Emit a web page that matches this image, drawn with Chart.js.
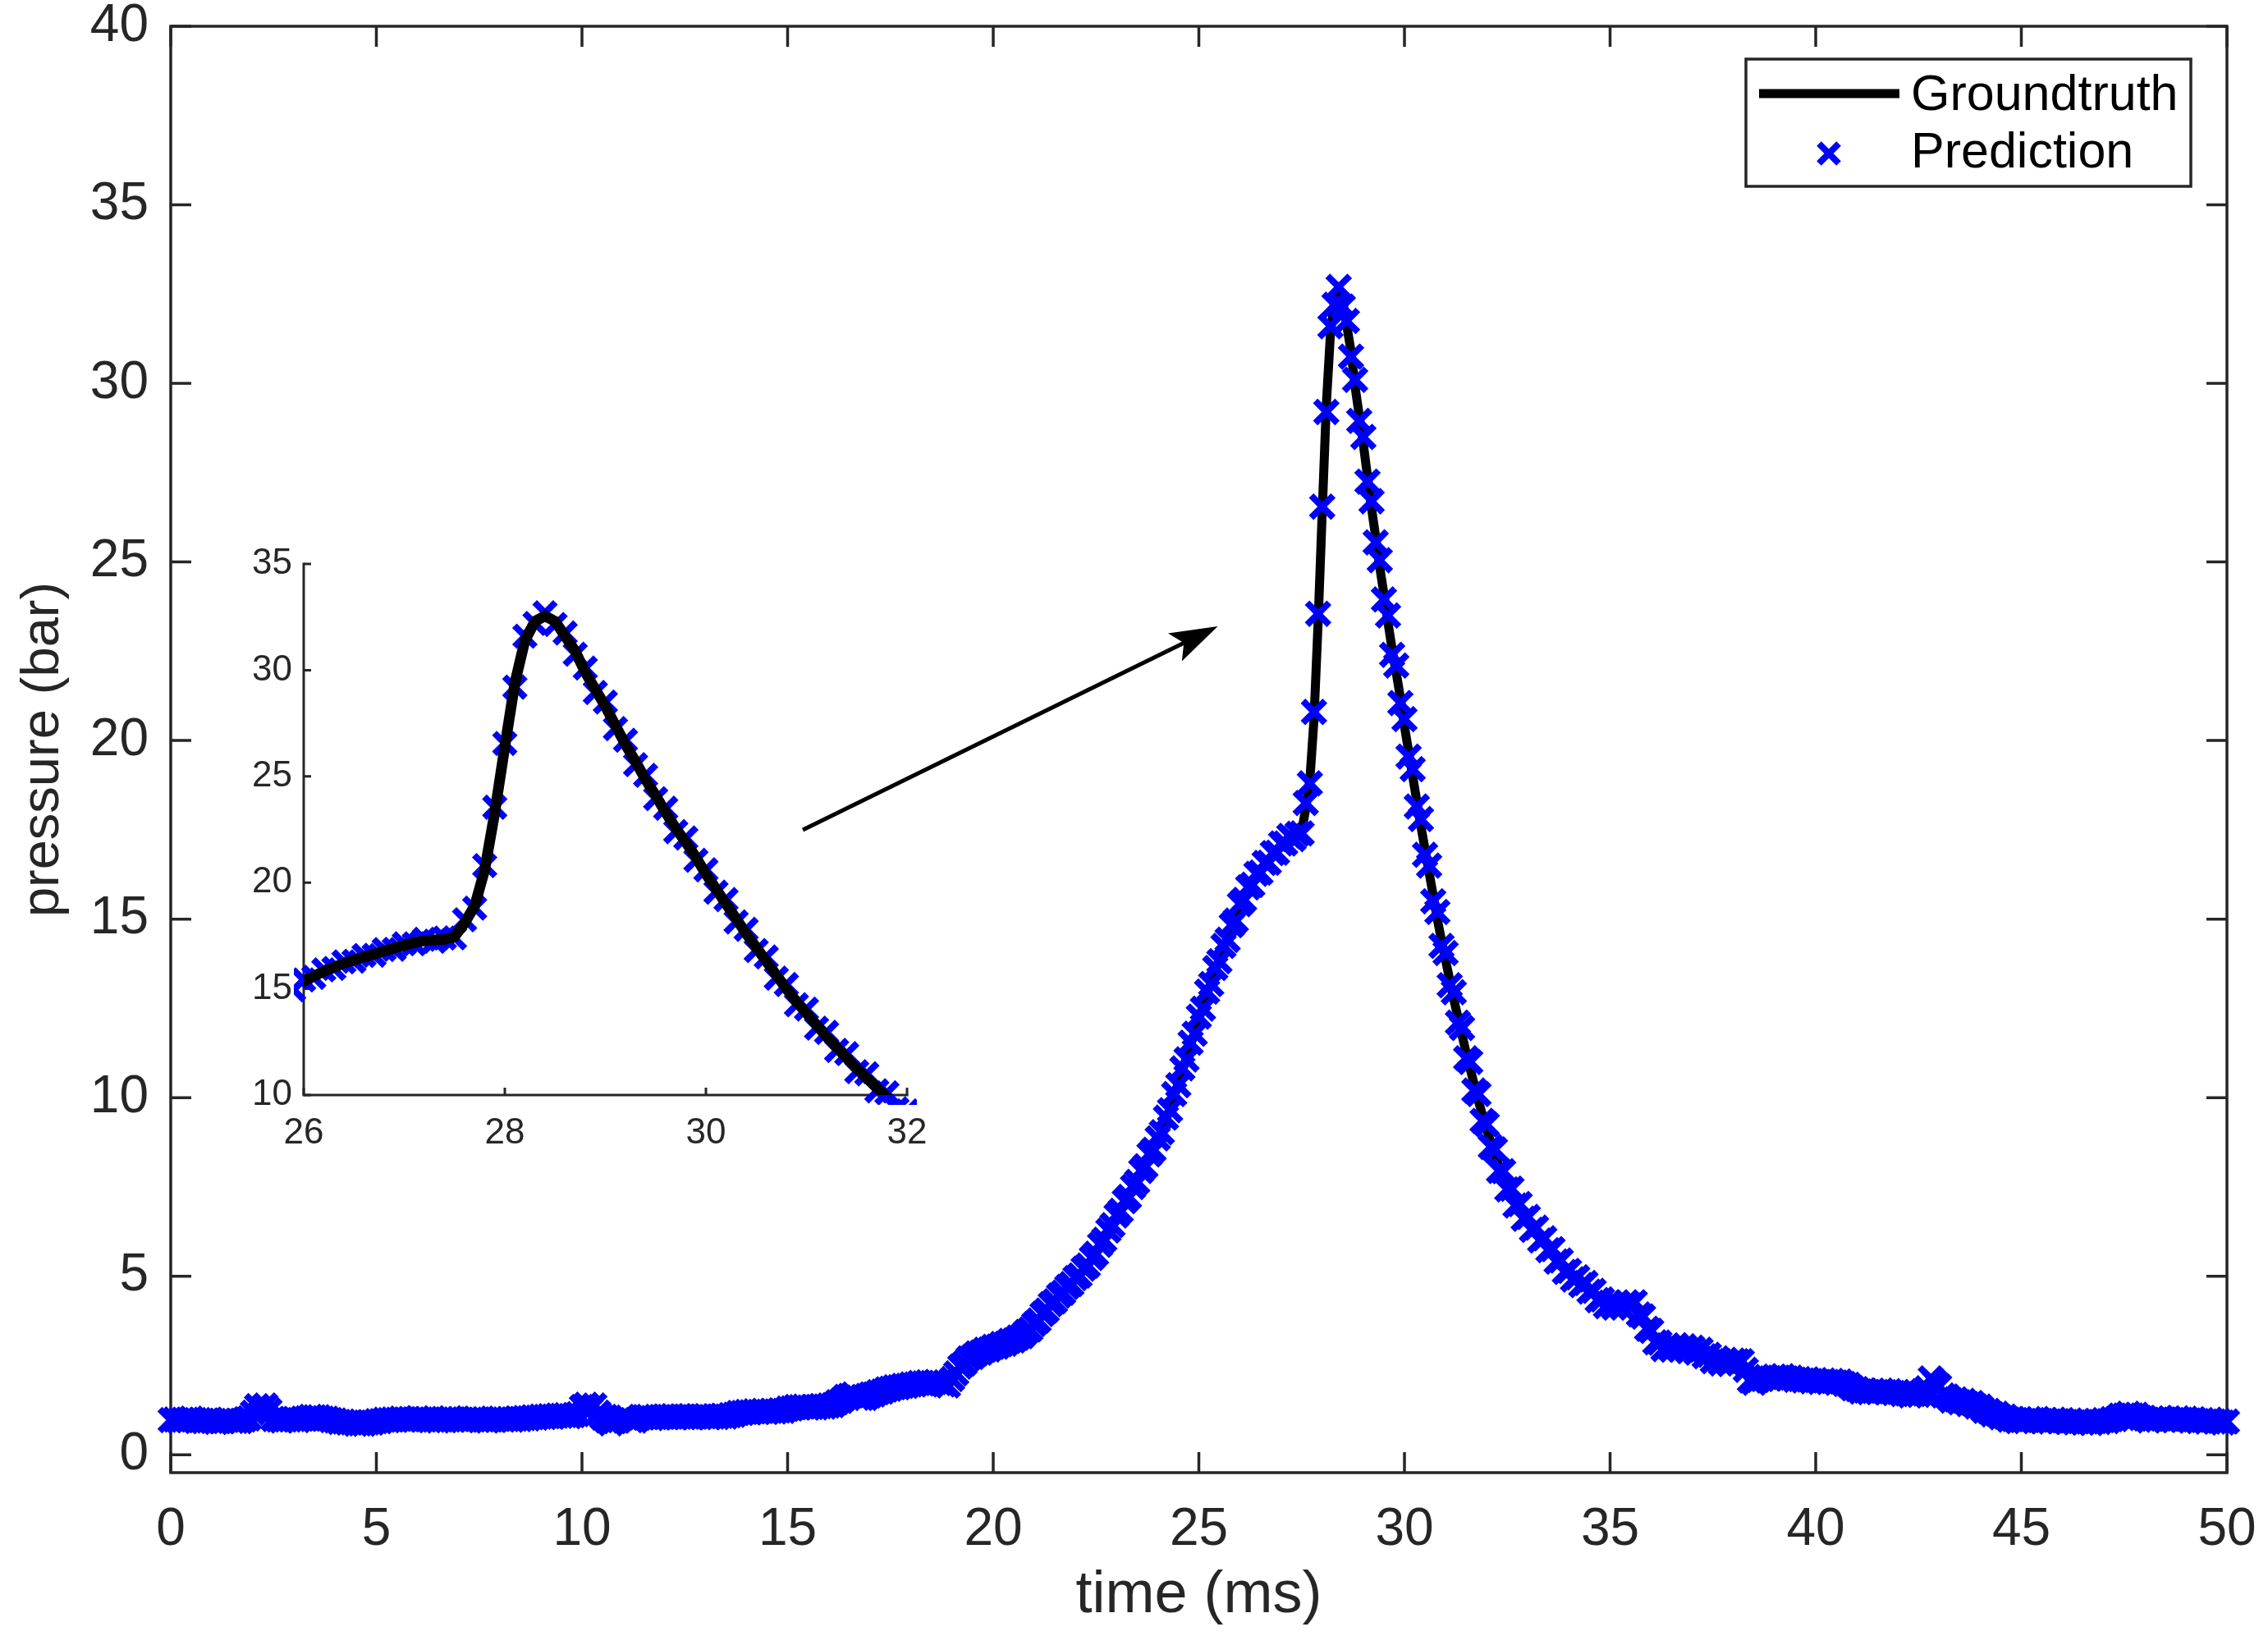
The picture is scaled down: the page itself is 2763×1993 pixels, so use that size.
<!DOCTYPE html>
<html>
<head>
<meta charset="utf-8">
<script src="https://cdn.jsdelivr.net/npm/chart.js@4.4.1/dist/chart.umd.min.js"></script>
<style>
  html, body { margin: 0; padding: 0; background: #fff; }
  #wrap { position: relative; width: 2763px; height: 1993px; }
  #mainChart { position: absolute; left: 0; top: 0; }
  #insetChart { position: absolute; left: 260px; top: 660px; }
</style>
</head>
<body>
<div id="wrap">
  <canvas id="mainChart" width="2763" height="1993"></canvas>
  <canvas id="insetChart" width="900" height="760"></canvas>
</div>
<script>
// samples every 0.1 ms from 0 to 50 ms
const sampleStartMs = 0;
const sampleStepMs = 0.1;

// pressure (bar), one row per ms
const groundtruth = [
  0.98,0.97,0.96,0.97,0.99,1.00,0.98,0.96,0.95,0.95,
  0.94,0.93,0.94,0.96,0.97,0.96,0.94,0.95,0.98,1.00,
  1.12,1.30,1.20,1.32,1.26,1.02,0.98,0.97,0.98,1.00,
  0.99,0.98,1.00,1.03,1.05,1.06,1.04,1.02,1.00,0.98,
  0.95,0.93,0.92,0.91,0.90,0.88,0.87,0.88,0.90,0.91,
  0.93,0.95,0.97,0.98,0.98,0.99,1.00,1.00,0.99,1.00,
  1.01,1.00,0.99,0.98,0.97,0.97,0.98,1.00,1.01,1.00,
  0.99,0.98,0.98,0.99,1.00,0.99,0.98,0.97,0.98,0.99,
  1.00,1.00,0.99,0.99,1.00,1.01,1.02,1.03,1.04,1.05,
  1.06,1.07,1.07,1.08,1.09,1.10,1.10,1.09,1.10,1.12,
  1.28,1.36,1.30,1.34,1.22,1.08,0.98,0.90,0.92,0.98,
  1.04,1.05,0.98,0.95,1.02,1.06,1.05,1.04,1.05,1.06,
  1.06,1.07,1.07,1.06,1.06,1.07,1.06,1.06,1.07,1.08,
  1.07,1.06,1.06,1.07,1.08,1.08,1.10,1.13,1.16,1.18,
  1.19,1.20,1.21,1.21,1.22,1.21,1.22,1.22,1.23,1.24,
  1.28,1.31,1.33,1.34,1.34,1.33,1.33,1.34,1.35,1.36,
  1.37,1.40,1.45,1.52,1.60,1.66,1.67,1.62,1.58,1.60,
  1.65,1.70,1.74,1.78,1.82,1.86,1.88,1.90,1.92,1.94,
  1.96,1.98,2.00,2.01,2.02,2.02,2.03,2.02,1.98,1.95,
  2.10,2.30,2.45,2.58,2.68,2.76,2.82,2.87,2.92,2.96,
  3.00,3.04,3.08,3.12,3.17,3.21,3.26,3.33,3.42,3.52,
  3.64,3.78,3.92,4.06,4.20,4.32,4.44,4.56,4.68,4.80,
  4.92,5.04,5.18,5.32,5.48,5.66,5.85,6.05,6.25,6.46,
  6.66,6.86,7.06,7.26,7.46,7.68,7.90,8.12,8.36,8.58,
  8.80,9.08,9.38,9.70,10.04,10.40,10.76,11.12,11.48,11.84,
  12.20,12.55,12.90,13.24,13.56,13.88,14.18,14.48,14.76,15.02,
  15.35,15.60,15.82,16.02,16.20,16.36,16.50,16.64,16.78,16.92,
  17.05,17.18,17.26,17.30,17.32,17.45,18.10,18.90,20.60,23.30,
  26.40,29.40,31.40,32.30,32.55,32.30,31.60,30.90,29.90,29.10,
  28.30,27.40,26.50,25.70,24.85,24.10,23.30,22.55,21.90,21.20,
  20.40,19.70,19.00,18.30,17.60,16.95,16.30,15.65,15.00,14.40,
  13.85,13.30,12.75,12.25,11.75,11.25,10.80,10.35,9.90,9.50,
  9.10,8.75,8.40,8.08,7.80,7.55,7.32,7.10,6.90,6.72,
  6.55,6.40,6.25,6.10,5.96,5.82,5.66,5.50,5.35,5.20,
  5.08,4.98,4.90,4.82,4.74,4.64,4.52,4.40,4.28,4.22,
  4.20,4.18,4.17,4.18,4.20,4.24,4.20,4.00,3.80,3.60,
  3.40,3.22,3.08,3.02,3.00,3.00,3.01,3.00,2.98,2.96,
  2.94,2.92,2.88,2.82,2.74,2.68,2.64,2.62,2.60,2.60,
  2.62,2.64,2.60,2.40,2.06,2.04,2.08,2.14,2.16,2.16,
  2.17,2.18,2.18,2.16,2.14,2.12,2.10,2.10,2.09,2.08,
  2.07,2.06,2.06,2.06,2.05,2.04,2.03,2.00,1.94,1.88,
  1.82,1.79,1.78,1.77,1.77,1.78,1.78,1.77,1.76,1.75,
  1.74,1.72,1.70,1.68,1.68,1.70,1.75,1.90,2.10,2.05,
  1.88,1.70,1.60,1.55,1.52,1.50,1.48,1.45,1.42,1.38,
  1.32,1.26,1.20,1.16,1.12,1.08,1.04,1.01,0.98,0.96,
  0.95,0.96,0.98,0.99,0.98,0.96,0.95,0.95,0.96,0.96,
  0.95,0.94,0.94,0.93,0.92,0.92,0.91,0.91,0.92,0.94,
  0.95,0.96,0.98,1.02,1.08,1.12,1.13,1.12,1.10,1.05,
  1.00,0.98,0.99,1.00,1.01,1.00,0.99,0.99,1.00,1.00,
  0.99,0.98,0.97,0.96,0.95,0.95,0.96,0.95,0.93,0.92,
  0.92
];

const prediction = [
  0.97,0.99,0.95,0.98,0.98,1.01,0.97,0.97,0.94,0.96,
  0.95,0.92,0.95,0.95,0.98,0.95,0.95,0.94,0.99,1.02,
  1.18,1.36,1.18,1.38,1.24,1.00,0.99,0.96,0.99,0.99,
  1.00,0.97,1.01,1.02,1.06,1.05,1.05,1.01,1.01,0.97,
  0.96,0.92,0.93,0.90,0.91,0.87,0.88,0.87,0.91,0.90,
  0.94,0.94,0.98,0.97,0.99,0.98,1.01,0.99,1.00,0.99,
  1.02,0.99,1.00,0.97,0.98,0.96,0.99,0.99,1.02,0.99,
  1.00,0.97,0.99,0.98,1.01,0.98,0.99,0.96,0.99,0.98,
  1.01,0.99,1.00,0.98,1.01,1.00,1.03,1.02,1.05,1.04,
  1.07,1.06,1.08,1.07,1.10,1.09,1.11,1.08,1.11,1.14,
  1.34,1.40,1.26,1.38,1.18,1.04,0.96,0.88,0.94,0.97,
  1.06,1.04,0.97,0.96,1.04,1.05,1.06,1.03,1.06,1.05,
  1.07,1.06,1.08,1.05,1.07,1.06,1.07,1.05,1.08,1.07,
  1.08,1.05,1.07,1.06,1.09,1.07,1.11,1.12,1.17,1.17,
  1.20,1.19,1.22,1.20,1.23,1.20,1.23,1.21,1.24,1.23,
  1.29,1.30,1.34,1.33,1.35,1.32,1.34,1.33,1.36,1.35,
  1.38,1.39,1.47,1.51,1.62,1.65,1.69,1.60,1.59,1.59,
  1.66,1.69,1.75,1.77,1.83,1.85,1.89,1.89,1.93,1.93,
  1.97,1.97,2.01,2.00,2.03,2.01,2.04,2.01,1.97,1.94,
  2.12,2.28,2.47,2.56,2.70,2.74,2.84,2.86,2.94,2.95,
  3.02,3.03,3.10,3.11,3.19,3.20,3.28,3.32,3.44,3.51,
  3.66,3.76,3.94,4.04,4.22,4.30,4.46,4.54,4.70,4.78,
  4.95,5.02,5.21,5.30,5.51,5.63,5.88,6.02,6.28,6.43,
  6.70,6.83,7.10,7.22,7.50,7.64,7.95,8.08,8.41,8.54,
  8.86,9.03,9.44,9.65,10.10,10.35,10.82,11.07,11.54,11.79,
  12.27,12.49,12.97,13.18,13.63,13.82,14.25,14.42,14.83,14.96,
  15.42,15.54,15.89,15.96,16.27,16.30,16.57,16.58,16.85,16.86,
  17.12,17.12,17.33,17.24,17.39,17.40,18.25,18.80,20.80,23.55,
  26.55,29.20,31.60,32.20,32.70,32.15,31.75,30.75,30.10,28.95,
  28.50,27.25,26.70,25.55,25.05,23.95,23.50,22.40,22.10,21.05,
  20.60,19.55,19.20,18.15,17.80,16.80,16.50,15.50,15.20,14.25,
  14.05,13.15,12.95,12.10,11.95,11.10,11.00,10.20,10.10,9.35,
  9.25,8.62,8.55,7.95,7.94,7.43,7.45,6.98,7.02,6.61,
  6.66,6.30,6.36,6.00,6.06,5.73,5.76,5.41,5.44,5.12,
  5.15,4.91,4.97,4.75,4.81,4.57,4.59,4.33,4.35,4.16,
  4.26,4.12,4.23,4.12,4.27,4.18,4.27,3.93,3.87,3.53,
  3.47,3.15,3.14,2.96,3.06,2.94,3.07,2.94,3.04,2.90,
  3.00,2.86,2.94,2.76,2.80,2.62,2.70,2.56,2.66,2.54,
  2.64,2.62,2.62,2.38,2.08,2.02,2.10,2.12,2.18,2.14,
  2.19,2.16,2.20,2.14,2.16,2.10,2.12,2.08,2.11,2.06,
  2.09,2.04,2.08,2.04,2.07,2.02,2.05,1.98,1.96,1.86,
  1.84,1.77,1.80,1.75,1.79,1.76,1.80,1.75,1.78,1.73,
  1.76,1.70,1.72,1.66,1.70,1.68,1.78,1.86,2.14,2.02,
  1.92,1.66,1.63,1.52,1.55,1.47,1.51,1.42,1.45,1.35,
  1.35,1.23,1.23,1.13,1.15,1.05,1.07,0.98,1.00,0.94,
  0.97,0.94,1.00,0.97,1.00,0.94,0.97,0.93,0.98,0.94,
  0.97,0.92,0.96,0.91,0.94,0.90,0.93,0.89,0.94,0.92,
  0.97,0.94,1.00,1.00,1.10,1.10,1.15,1.10,1.12,1.03,
  1.02,0.96,1.01,0.98,1.03,0.98,1.01,0.97,1.02,0.98,
  1.01,0.96,0.99,0.94,0.97,0.93,0.98,0.93,0.95,0.90,
  0.93
];

const mainXTicks = [0, 5, 10, 15, 20, 25, 30, 35, 40, 45, 50];
const mainYTicks = [0, 5, 10, 15, 20, 25, 30, 35, 40];
const insetXTicks = [26, 28, 30, 32];
const insetYTicks = [10, 15, 20, 25, 30, 35];

// arrow from the inset towards the peak, in data units of the main axes
const arrowFrom = [15.37, 17.5];
const arrowTo = [25.46, 23.2];

const seriesLabels = ['Groundtruth', 'Prediction'];

const FONT = "'Liberation Sans', Arial, Helvetica, sans-serif";
const AXIS_COLOR = '#262626';

function toPoints(values) {
  return values.map((v, i) => ({ x: +(sampleStartMs + i * sampleStepMs).toFixed(1), y: v }));
}
const gtPoints = toPoints(groundtruth);
const predPoints = toPoints(prediction);

// inward ticks + axis lines, matlab style
function framePlugin(xTicks, yTicks, tickLen, lineW, fullBox) {
  return {
    id: 'frame',
    beforeDatasetsDraw(chart) {
      const { ctx, chartArea: a, scales } = chart;
      ctx.save();
      ctx.strokeStyle = AXIS_COLOR;
      ctx.lineWidth = lineW;
      ctx.lineCap = 'square';
      ctx.beginPath();
      if (fullBox) {
        ctx.rect(a.left, a.top, a.right - a.left, a.bottom - a.top);
      } else {
        ctx.moveTo(a.left, a.top);
        ctx.lineTo(a.left, a.bottom);
        ctx.lineTo(a.right, a.bottom);
      }
      ctx.stroke();
      ctx.lineCap = 'butt';
      ctx.beginPath();
      xTicks.forEach(t => {
        const px = scales.x.getPixelForValue(t);
        ctx.moveTo(px, a.bottom); ctx.lineTo(px, a.bottom - tickLen);
        if (fullBox) { ctx.moveTo(px, a.top); ctx.lineTo(px, a.top + tickLen); }
      });
      yTicks.forEach(t => {
        const py = scales.y.getPixelForValue(t);
        ctx.moveTo(a.left, py); ctx.lineTo(a.left + tickLen, py);
        if (fullBox) { ctx.moveTo(a.right, py); ctx.lineTo(a.right - tickLen, py); }
      });
      ctx.stroke();
      ctx.restore();
    }
  };
}

const arrowPlugin = {
  id: 'arrow',
  afterDatasetsDraw(chart) {
    const { ctx, scales } = chart;
    const x0 = scales.x.getPixelForValue(arrowFrom[0]);
    const y0 = scales.y.getPixelForValue(arrowFrom[1]);
    const x1 = scales.x.getPixelForValue(arrowTo[0]);
    const y1 = scales.y.getPixelForValue(arrowTo[1]);
    const len = Math.hypot(x1 - x0, y1 - y0);
    const ux = (x1 - x0) / len, uy = (y1 - y0) / len;
    const nx = -uy, ny = ux;
    const headLen = 58, halfW = 19, notch = 46;
    ctx.save();
    ctx.strokeStyle = '#000';
    ctx.fillStyle = '#000';
    ctx.lineWidth = 5;
    ctx.beginPath();
    ctx.moveTo(x0, y0);
    ctx.lineTo(x1 - ux * notch, y1 - uy * notch);
    ctx.stroke();
    ctx.beginPath();
    ctx.moveTo(x1, y1);
    ctx.lineTo(x1 - ux * headLen + nx * halfW, y1 - uy * headLen + ny * halfW);
    ctx.lineTo(x1 - ux * notch, y1 - uy * notch);
    ctx.lineTo(x1 - ux * headLen - nx * halfW, y1 - uy * headLen - ny * halfW);
    ctx.closePath();
    ctx.fill();
    ctx.restore();
  }
};

const legendPlugin = {
  id: 'boxLegend',
  afterDraw(chart) {
    const { ctx, chartArea: a } = chart;
    const bx = a.right - 586, by = a.top + 40, bw = 542, bh = 155;
    ctx.save();
    ctx.fillStyle = '#fff';
    ctx.fillRect(bx, by, bw, bh);
    ctx.strokeStyle = AXIS_COLOR;
    ctx.lineWidth = 3.5;
    ctx.strokeRect(bx, by, bw, bh);
    // groundtruth sample
    ctx.strokeStyle = '#000';
    ctx.lineWidth = 11;
    ctx.beginPath();
    ctx.moveTo(bx + 16, by + 42);
    ctx.lineTo(bx + 187, by + 42);
    ctx.stroke();
    // prediction sample
    const mx = bx + 101, my = by + 115, r = 12;
    ctx.strokeStyle = '#0000ff';
    ctx.lineWidth = 8;
    ctx.beginPath();
    ctx.moveTo(mx - r, my - r); ctx.lineTo(mx + r, my + r);
    ctx.moveTo(mx - r, my + r); ctx.lineTo(mx + r, my - r);
    ctx.stroke();
    ctx.fillStyle = '#000';
    ctx.font = '61px ' + FONT;
    ctx.textBaseline = 'middle';
    ctx.textAlign = 'left';
    ctx.fillText(seriesLabels[0], bx + 201, by + 45);
    ctx.fillText(seriesLabels[1], bx + 201, by + 115);
    ctx.restore();
  }
};

function tickOpts(size, pad, step) {
  return {
    stepSize: step,
    includeBounds: false,
    autoSkip: false,
    maxRotation: 0,
    padding: pad,
    color: AXIS_COLOR,
    font: { family: FONT, size: size }
  };
}

// keep the plot box where it is, no room added for overhanging labels
function fixX(h) {
  return s => { s.height = h; s.paddingLeft = 0; s.paddingRight = 0; };
}
function fixY(w) {
  return s => { s.width = w; s.paddingTop = 0; s.paddingBottom = 0; };
}

new Chart(document.getElementById('mainChart'), {
  type: 'line',
  data: {
    datasets: [
      {
        label: seriesLabels[0],
        data: gtPoints,
        borderColor: '#000',
        borderWidth: 11,
        pointRadius: 0,
        tension: 0,
        order: 1,
        clip: false
      },
      {
        label: seriesLabels[1],
        data: predPoints,
        showLine: false,
        pointStyle: 'crossRot',
        pointRadius: 19,
        pointBorderWidth: 8,
        pointBorderColor: '#0000ff',
        borderColor: '#0000ff',
        order: 0,
        clip: false
      }
    ]
  },
  options: {
    responsive: false,
    animation: false,
    devicePixelRatio: 1,
    layout: { padding: { top: 32, right: 50, left: 0, bottom: 0 } },
    plugins: { legend: { display: false }, tooltip: { enabled: false } },
    scales: {
      x: {
        type: 'linear',
        min: 0,
        max: 50,
        ticks: tickOpts(64, 32, 5),
        grid: { display: false, drawTicks: false },
        border: { display: false },
        title: { display: true, text: 'time (ms)', color: AXIS_COLOR, font: { family: FONT, size: 72 }, padding: { top: 0, bottom: 6 } },
        afterFit: fixX(199)
      },
      y: {
        type: 'linear',
        min: -0.5,
        max: 40,
        ticks: tickOpts(64, 27, 5),
        grid: { display: false, drawTicks: false },
        border: { display: false },
        title: { display: true, text: 'pressure (bar)', color: AXIS_COLOR, font: { family: FONT, size: 65 }, padding: { top: 14, bottom: 0 } },
        afterFit: fixY(208)
      }
    }
  },
  plugins: [framePlugin(mainXTicks, mainYTicks, 25, 3.5, true), arrowPlugin, legendPlugin]
});

// zoomed view of the peak
const inWindow = p => p.x >= 25.9 && p.x <= 32.1;

new Chart(document.getElementById('insetChart'), {
  type: 'line',
  data: {
    datasets: [
      {
        label: seriesLabels[0],
        data: gtPoints.filter(inWindow),
        borderColor: '#000',
        borderWidth: 13,
        pointRadius: 0,
        tension: 0,
        order: 0,
        clip: 0
      },
      {
        label: seriesLabels[1],
        data: predPoints.filter(inWindow),
        showLine: false,
        pointStyle: 'crossRot',
        pointRadius: 18,
        pointBorderWidth: 8,
        pointBorderColor: '#0000ff',
        borderColor: '#0000ff',
        order: 1,
        clip: 12
      }
    ]
  },
  options: {
    responsive: false,
    animation: false,
    devicePixelRatio: 1,
    layout: { padding: { top: 27, right: 55, left: 0, bottom: 0 } },
    plugins: { legend: { display: false }, tooltip: { enabled: false } },
    scales: {
      x: {
        type: 'linear',
        min: 26,
        max: 32,
        ticks: tickOpts(44, 20, 2),
        grid: { display: false, drawTicks: false },
        border: { display: false },
        afterFit: fixX(86)
      },
      y: {
        type: 'linear',
        min: 10,
        max: 35,
        ticks: tickOpts(44, 14, 5),
        grid: { display: false, drawTicks: false },
        border: { display: false },
        afterFit: fixY(110)
      }
    }
  },
  plugins: [framePlugin(insetXTicks, insetYTicks, 9, 3, false)]
});
</script>
</body>
</html>
